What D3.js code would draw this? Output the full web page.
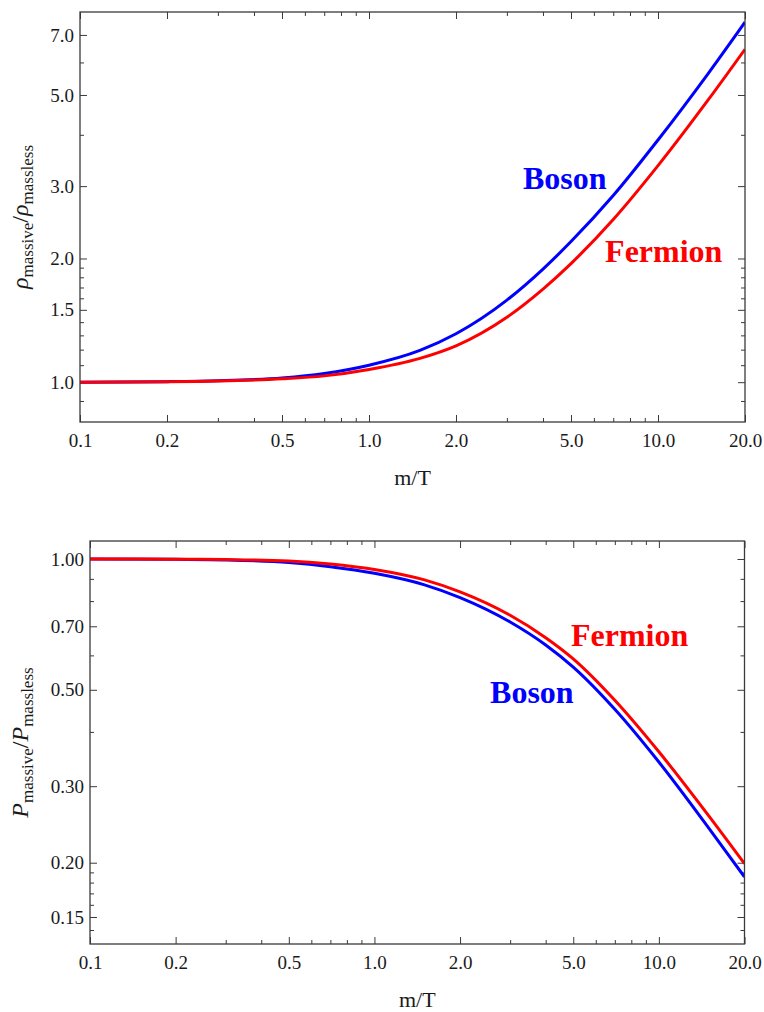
<!DOCTYPE html>
<html>
<head>
<meta charset="utf-8">
<script src="https://cdn.jsdelivr.net/npm/d3@7"></script>
<style>
  body { margin: 0; background: #fff; }
  svg { display: block; }
  text { font-family: "Liberation Serif", "Times New Roman", "DejaVu Serif", serif; }
</style>
</head>
<body>
<svg id="chart" width="764" height="1012"></svg>
<script>
// m/T sample points shared by both panels
const massOverT = [0.1, 0.2, 0.3, 0.5, 0.7, 1.0, 1.5, 2.0, 3.0, 4.0, 5.0, 7.0, 10.0, 15.0, 20.0];

// energy density ratio rho_massive / rho_massless
const rhoBoson   = [1.0, 1.003, 1.008, 1.024, 1.050, 1.100, 1.195, 1.312, 1.584, 1.885, 2.199, 2.846, 3.886, 5.67, 7.52];
const rhoFermion = [1.0, 1.002, 1.006, 1.019, 1.036, 1.074, 1.143, 1.226, 1.439, 1.685, 1.944, 2.488, 3.365, 4.89, 6.46];

// pressure ratio P_massive / P_massless
const presBoson   = [1.0, 0.998, 0.995, 0.9817, 0.960, 0.927, 0.872, 0.815, 0.716, 0.634, 0.564, 0.451, 0.341, 0.240, 0.1855];
const presFermion = [1.0, 0.999, 0.997, 0.9895, 0.974, 0.946, 0.895, 0.840, 0.742, 0.659, 0.589, 0.473, 0.360, 0.256, 0.199];

// tick values
const xMajor = [0.1, 0.2, 0.5, 1, 2, 5, 10, 20];
const xMinor = [0.3, 0.4, 0.6, 0.7, 0.8, 0.9, 3, 4, 6, 7, 8, 9];
const rhoMajor = [1.0, 1.5, 2.0, 3.0, 5.0, 7.0];
const rhoMinor = [0.9, 1.1, 1.2, 1.3, 1.4, 1.6, 1.7, 1.8, 1.9, 4, 6];
const presMajor = [0.15, 0.2, 0.3, 0.5, 0.7, 1.0];
const presMinor = [0.14, 0.16, 0.17, 0.18, 0.19, 0.4, 0.6, 0.8, 0.9];

const BLUE = "#0000ff", RED = "#ff0000", FRAME = "#3a3a3a", INK = "#1a1a1a";
const SERIF = '"Liberation Serif", "Times New Roman", "DejaVu Serif", serif';
const svg = d3.select("#chart");

function panel(cfg) {
  const x = d3.scaleLog().domain([0.1, 20]).range([cfg.left, cfg.right]);
  const y = d3.scaleLog().domain(cfg.yDomain).range([cfg.bottom, cfg.top]);
  const g = svg.append("g");

  const majorLen = 7, minorLen = 4;
  const styleAxis = sel => {
    sel.attr("font-family", SERIF);
    sel.select(".domain").remove();
    sel.selectAll("line").attr("stroke", FRAME).attr("stroke-width", 1);
    sel.selectAll("text").attr("fill", INK).style("font-size", "19px")
      .style("font-family", SERIF);
  };
  const xFmt = d => d.toFixed(1);

  // bottom axis (labelled) + minor ticks
  g.append("g").attr("transform", `translate(0,${cfg.bottom})`)
    .call(d3.axisBottom(x).tickValues(xMajor).tickFormat(xFmt)
      .tickSizeInner(-majorLen).tickSizeOuter(0).tickPadding(12)).call(styleAxis);
  g.append("g").attr("transform", `translate(0,${cfg.bottom})`)
    .call(d3.axisBottom(x).tickValues(xMinor).tickFormat("")
      .tickSizeInner(-minorLen).tickSizeOuter(0)).call(styleAxis);
  // top mirror ticks
  g.append("g").attr("transform", `translate(0,${cfg.top})`)
    .call(d3.axisTop(x).tickValues(xMajor).tickFormat("")
      .tickSizeInner(-majorLen).tickSizeOuter(0)).call(styleAxis);
  g.append("g").attr("transform", `translate(0,${cfg.top})`)
    .call(d3.axisTop(x).tickValues(xMinor).tickFormat("")
      .tickSizeInner(-minorLen).tickSizeOuter(0)).call(styleAxis);
  // left axis (labelled)
  g.append("g").attr("transform", `translate(${cfg.left},0)`)
    .call(d3.axisLeft(y).tickValues(cfg.yMajor).tickFormat(d => d.toFixed(cfg.yDigits))
      .tickSizeInner(-majorLen).tickSizeOuter(0).tickPadding(6)).call(styleAxis);
  g.append("g").attr("transform", `translate(${cfg.left},0)`)
    .call(d3.axisLeft(y).tickValues(cfg.yMinor).tickFormat("")
      .tickSizeInner(-minorLen).tickSizeOuter(0)).call(styleAxis);
  // right mirror ticks
  g.append("g").attr("transform", `translate(${cfg.right},0)`)
    .call(d3.axisRight(y).tickValues(cfg.yMajor).tickFormat("")
      .tickSizeInner(-majorLen).tickSizeOuter(0)).call(styleAxis);
  g.append("g").attr("transform", `translate(${cfg.right},0)`)
    .call(d3.axisRight(y).tickValues(cfg.yMinor).tickFormat("")
      .tickSizeInner(-minorLen).tickSizeOuter(0)).call(styleAxis);

  // curves (blue first, red drawn over it)
  const clipId = cfg.id + "-clip";
  svg.append("clipPath").attr("id", clipId).append("rect")
    .attr("x", cfg.left).attr("y", cfg.top)
    .attr("width", cfg.right - cfg.left).attr("height", cfg.bottom - cfg.top);
  const line = d3.line().x(d => x(d[0])).y(d => y(d[1])).curve(d3.curveMonotoneX);
  const plot = g.append("g").attr("clip-path", `url(#${clipId})`);
  plot.append("path").datum(d3.zip(massOverT, cfg.boson))
    .attr("d", line).attr("fill", "none").attr("stroke", BLUE).attr("stroke-width", 3);
  plot.append("path").datum(d3.zip(massOverT, cfg.fermion))
    .attr("d", line).attr("fill", "none").attr("stroke", RED).attr("stroke-width", 3);

  // frame
  g.append("rect").attr("x", cfg.left).attr("y", cfg.top)
    .attr("width", cfg.right - cfg.left).attr("height", cfg.bottom - cfg.top)
    .attr("fill", "none").attr("stroke", FRAME).attr("stroke-width", 1.3);

  // x title
  g.append("text").attr("x", (cfg.left + cfg.right) / 2).attr("y", cfg.bottom + 63)
    .attr("text-anchor", "middle").style("font-size", "22px").style("font-family", SERIF)
    .attr("fill", INK).text("m/T");

  // y title
  const yt = g.append("text")
    .attr("transform", `translate(${cfg.yTitleX},${(cfg.top + cfg.bottom) / 2}) rotate(-90)`)
    .attr("text-anchor", "middle").attr("fill", INK)
    .style("font-size", "24px").style("font-family", SERIF);
  yt.append("tspan").style("font-style", "italic").text(cfg.sym);
  yt.append("tspan").style("font-size", "17px").attr("dy", 5).text("massive");
  yt.append("tspan").attr("dy", -5).text("/");
  yt.append("tspan").style("font-style", "italic").text(cfg.sym);
  yt.append("tspan").style("font-size", "17px").attr("dy", 5).text("massless");

  // series labels
  cfg.labels.forEach(l => {
    g.append("text").attr("x", x(l.at[0])).attr("y", y(l.at[1]))
      .attr("fill", l.color).style("font-size", "32px").style("font-weight", "bold")
      .style("font-family", SERIF).text(l.text);
  });
}

panel({
  id: "rho", left: 80, right: 745, top: 12, bottom: 422,
  yDomain: [0.8, 7.96], yMajor: rhoMajor, yMinor: rhoMinor, yDigits: 1,
  boson: rhoBoson, fermion: rhoFermion, sym: "ρ", yTitleX: 28,
  labels: [
    { text: "Boson", color: BLUE, at: [3.41, 2.95] },
    { text: "Fermion", color: RED, at: [6.56, 1.96] }
  ]
});

panel({
  id: "pres", left: 90, right: 744.5, top: 541, bottom: 944,
  yDomain: [0.13, 1.1], yMajor: presMajor, yMinor: presMinor, yDigits: 2,
  boson: presBoson, fermion: presFermion, sym: "P", yTitleX: 28,
  labels: [
    { text: "Fermion", color: RED, at: [4.91, 0.63] },
    { text: "Boson", color: BLUE, at: [2.55, 0.467] }
  ]
});
</script>
</body>
</html>
